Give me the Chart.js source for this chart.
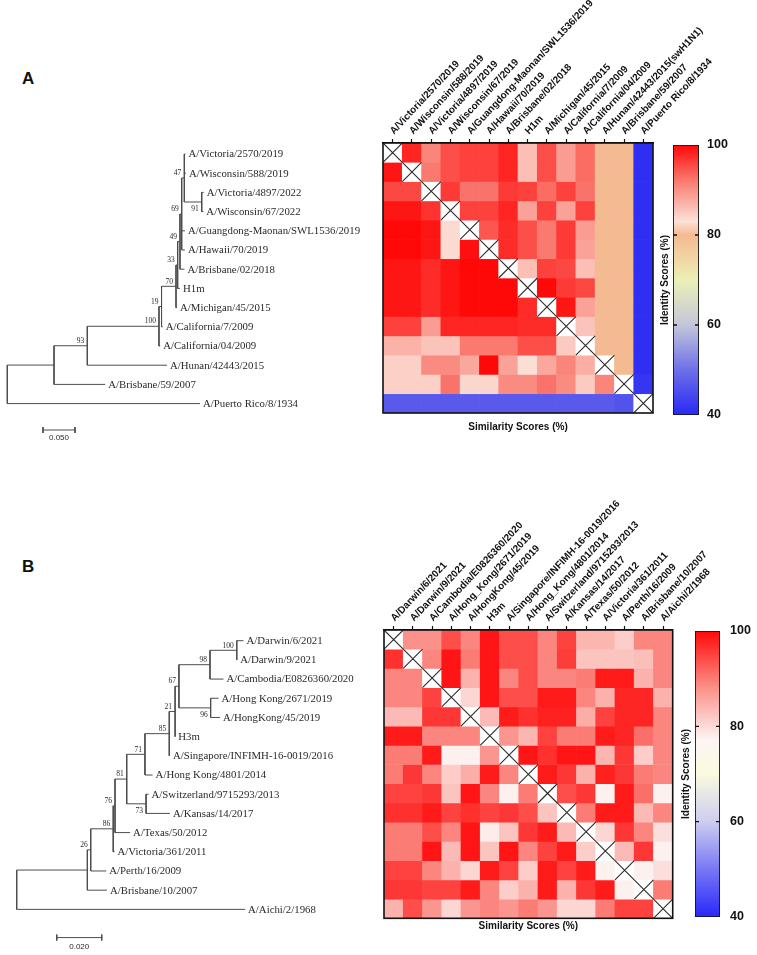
<!DOCTYPE html>
<html>
<head>
<meta charset="utf-8">
<script src="https://cdn.jsdelivr.net/npm/chart.js@4.4.1/dist/chart.umd.min.js"></script>
<style>
  body { margin: 0; background: #fff; }
  #wrap { position: relative; width: 757px; height: 955px; overflow: hidden; font-family: "Liberation Sans", Arial, sans-serif; }
  canvas { position: absolute; }
  .panel { position: absolute; font-weight: bold; font-size: 17px; line-height: 17px; color: #111; }
</style>
</head>
<body>
<div id="wrap">
  <div class="panel" style="left:22px;top:70px">A</div>
  <div class="panel" style="left:22px;top:558px">B</div>
  <canvas id="treeA" width="380" height="320" style="left:0;top:130px"></canvas>
  <canvas id="heatA" width="427" height="440" style="left:330px;top:0"></canvas>
  <canvas id="barA" width="102" height="310" style="left:655px;top:120px"></canvas>
  <canvas id="treeB" width="380" height="355" style="left:0;top:600px"></canvas>
  <canvas id="heatB" width="427" height="445" style="left:330px;top:490px"></canvas>
  <canvas id="barB" width="87" height="330" style="left:670px;top:610px"></canvas>
</div>
<script>
// ---- data ----
// trees as Newick (internal node names = bootstrap values)
const treeA = '((((((((((A/Victoria/2570/2019:0.0018,A/Wisconsin/588/2019:0.0025,(A/Victoria/4897/2022:0.003,A/Wisconsin/67/2022:0.0025)91:0.0272)47:0.0041,A/Guangdong-Maonan/SWL1536/2019:0.005,A/Hawaii/70/2019:0.005)69:0.0027,A/Brisbane/02/2018:0.007)49:0.0036,H1m:0.0036)33:0.0026,A/Michigan/45/2015:0.0016)70:0.0226,A/California/7/2009:0.002)19:0.004,A/California/04/2009:0.002)100:0.112,A/Hunan/42443/2015:0.1245)93:0.052,A/Brisbane/59/2007:0.080):0.073,A/Puerto Rico/8/1934:0.301);';
const treeB = '((((((((((((A/Darwin/6/2021:0.003,A/Darwin/9/2021:0.0002)100:0.0119,A/Cambodia/E0826360/2020:0.006)98:0.0138,(A/Hong Kong/2671/2019:0.0035,A/HongKong/45/2019:0.0042)96:0.0141)67:0.0017,H3m:0.0001)21:0.0026,A/Singapore/INFIMH-16-0019/2016:0.0003)85:0.0108,A/Hong Kong/4801/2014:0.0034)71:0.0081,(A/Switzerland/9715293/2013:0.0011,A/Kansas/14/2017:0.0106)73:0.0086)81:0.0052,A/Texas/50/2012:0.0067)76:0.0008,A/Victoria/361/2011:0.0006)86:0.010,A/Perth/16/2009:0.0069)26:0.0015,A/Brisbane/10/2007:0.0087):0.0314,A/Aichi/2/1968:0.1015);';
const scaleBarA = 0.05;
const scaleBarB = 0.02;

const heatLabelsA = ['A/Victoria/2570/2019', 'A/Wisconsin/588/2019', 'A/Victoria/4897/2019', 'A/Wisconsin/67/2019',
  'A/Guangdong-Maonan/SWL1536/2019', 'A/Hawaii/70/2019', 'A/Brisbane/02/2018', 'H1m', 'A/Michigan/45/2015',
  'A/California/7/2009', 'A/California/04/2009', 'A/Hunan/42443/2015(swH1N1)', 'A/Brisbane/59/2007', 'A/Puerto Rico/8/1934'];
const heatLabelsB = ['A/Darwin/6/2021', 'A/Darwin/9/2021', 'A/Cambodia/E0826360/2020', 'A/Hong_Kong/2671/2019',
  'A/HongKong/45/2019', 'H3m', 'A/Singapore/INFIMH-16-0019/2016', 'A/Hong_Kong/4801/2014', 'A/Switzerland/9715293/2013',
  'A/Kansas/14/2017', 'A/Texas/50/2012', 'A/Victoria/361/2011', 'A/Perth/16/2009', 'A/Brisbane/10/2007', 'A/Aichi/2/1968'];

// identity / similarity scores (%), null = diagonal
const scoresA = [
  [null, 98, 91, 95, 96, 96, 98, 86, 95, 89, 93, 80, 80, 41],
  [99, null, 92, 95, 96, 96, 98, 86, 95, 89, 93, 80, 80, 41],
  [95.5, 95.5, null, 96.5, 92.5, 92.5, 96.5, 96, 93, 96, 92.5, 80, 80, 41],
  [99, 99, 97, null, 96, 96, 98, 88.5, 96, 88.5, 96, 80, 80, 41],
  [100, 100, 99, 83.5, null, 94.5, 97.5, 95, 92, 96.5, 89, 80, 80, 41],
  [100, 100, 99, 83.5, 99.5, null, 97.5, 95, 92, 96.5, 88.5, 80, 80, 41],
  [99, 99, 97.5, 99, 100, 100, null, 86, 96, 95.5, 86, 80, 80, 41],
  [99, 99, 97.5, 99, 100, 100, 100, null, 100, 96.5, 95.5, 80, 80, 41],
  [99, 99, 97.5, 99, 100, 100, 100, 97.5, null, 99, 88.5, 80, 80, 41],
  [96, 96, 89, 98, 98, 98, 98, 97.5, 97.5, null, 85.5, 80, 80, 41],
  [87, 87, 85.5, 85.5, 92, 92, 92, 95, 95, 85, null, 80, 80, 41],
  [84.5, 84.5, 90.5, 90.5, 88, 100, 88.5, 83.2, 88, 91, 87.5, null, 80, 41],
  [84.5, 84.5, 84.5, 92.5, 84, 84, 90.5, 90.5, 92.5, 90.5, 85, 91, null, 42],
  [47, 47, 47, 47, 47, 47, 47, 47, 47, 47, 47, 47, 46, null]
];
const scoresB = [
  [null, 88, 88, 94, 89, 99, 94, 94, 89, 95, 84, 84, 81.5, 89, 89],
  [96.5, null, 89, 99, 90, 99, 94, 94, 89, 95.5, 82.5, 82.5, 82.5, 83, 89],
  [89, 89, null, 99, 84.5, 99, 89, 94, 89, 89, 90, 98.5, 98.5, 84.5, 89],
  [89, 89, 95, null, 80.5, 99, 94, 94, 98.5, 98.5, 89, 84.5, 97.5, 97.5, 84.5],
  [83.5, 83.5, 96, 96, null, 83.5, 98.5, 96.5, 98, 98, 85, 95, 97.5, 97.5, 89],
  [98.5, 98.5, 89, 89, 89, null, 87.5, 84, 95, 90, 90, 98.5, 97.5, 91, 89],
  [90, 90, 98.5, 77.5, 77.5, 87.5, null, 99, 96.5, 99, 99, 84, 96, 81.5, 89],
  [90, 96, 89, 81.5, 85, 98.5, 89, null, 98.5, 96, 84.5, 98, 96, 90, 89],
  [95, 95, 96, 82.5, 99, 89, 77.5, 90, null, 94, 96, 77.5, 98.5, 91, 77.5],
  [96.5, 96.5, 98.5, 95, 96.5, 95, 96, 94, 82.5, null, 90, 98.5, 98.5, 83.5, 89],
  [90, 90, 94, 89, 99, 78, 82.5, 96, 98.5, 83.5, null, 80.5, 96, 89, 79.5],
  [90, 90, 99, 83.5, 99, 82.5, 99, 89, 95, 98.5, 81.5, null, 83.5, 96, 77.5],
  [95, 95, 89, 84.5, 80.5, 98.5, 95, 81.5, 98.5, 95, 98.5, 77.5, null, 77.5, 79.5],
  [96, 96, 95, 95, 98.5, 89, 81.5, 84.5, 98.5, 84.5, 96, 98.5, 77.5, null, 90],
  [84.5, 94, 87.5, 80.5, 87.5, 89, 87.5, 90, 87.5, 80.5, 80.5, 90, 95, 95, null]
];
const colorTicks = [40, 60, 80, 100];

// colour scales [value, rgb]
const cmapA = [[40, [40, 40, 245]], [50, [110, 112, 232]], [60, [195, 198, 218]], [70, [236, 240, 182]],
  [80, [244, 186, 146]], [83, [251, 225, 215]], [92, [250, 122, 112]], [100, [255, 8, 8]]];
const cmapB = [[40, [40, 40, 250]], [50, [120, 120, 245]], [60, [205, 205, 240]], [70, [250, 250, 222]],
  [77, [253, 246, 244]], [88, [250, 145, 138]], [100, [255, 10, 10]]];

// ---- helpers ----
const SANS = '"Liberation Sans", Arial, sans-serif';
const SERIF = '"Liberation Serif", "Times New Roman", serif';

function parseNewick(s) {
  let i = 0;
  function readToken() {
    let t = '';
    while (i < s.length && !'(),:;'.includes(s[i])) t += s[i++];
    return t.trim();
  }
  function node() {
    const n = { kids: null, name: '', len: 0 };
    if (s[i] === '(') {
      n.kids = [];
      i++;
      do { n.kids.push(node()); } while (s[i++] === ',');
    }
    n.name = readToken();
    if (s[i] === ':') { i++; n.len = parseFloat(readToken()); }
    return n;
  }
  return node();
}

function layoutTree(root) {
  const segs = [], leaves = [], nodes = [];
  let row = 0;
  function walk(n, px) {
    const x = px + n.len;
    let y;
    if (n.kids) {
      const ys = n.kids.map(k => walk(k, x));
      y = (ys[0] + ys[ys.length - 1]) / 2;
      segs.push([[x, ys[0]], [x, ys[ys.length - 1]]]);
      if (n.name) nodes.push({ x, y, text: n.name });
    } else {
      y = row++;
      leaves.push({ x, y, text: n.name });
    }
    if (n.len > 0) segs.push([[px, y], [x, y]]);
    return y;
  }
  walk(root, 0);
  return { segs, leaves, nodes };
}

function colorFor(cmap, v) {
  if (v == null) return '#ffffff';
  for (let i = 1; i < cmap.length; i++) {
    const [v1, c1] = cmap[i];
    if (v <= v1 || i === cmap.length - 1) {
      const [v0, c0] = cmap[i - 1];
      const t = Math.max(0, Math.min(1, (v - v0) / (v1 - v0)));
      return 'rgb(' + c0.map((a, k) => Math.round(a + (c1[k] - a) * t)).join(',') + ')';
    }
  }
}

const baseOpts = {
  responsive: false,
  animation: false,
  devicePixelRatio: 1,
  plugins: { legend: { display: false }, tooltip: { enabled: false } }
};

// ---- tree ----
function treeChart(id, newick, g) {
  const t = layoutTree(parseNewick(newick));
  const cv = document.getElementById(id);
  const W = cv.width, H = cv.height;
  const line = pts => ({
    data: pts.map(p => ({ x: p[0], y: p[1] })),
    showLine: true, borderColor: '#4d4d4d', borderWidth: 1, pointRadius: 0
  });
  const datasets = t.segs.map(line);
  const tick = 3 / g.rowPx;
  datasets.push(line([[g.barX, g.barRow], [g.barX + g.barLen, g.barRow]]));
  datasets.push(line([[g.barX, g.barRow - tick], [g.barX, g.barRow + tick]]));
  datasets.push(line([[g.barX + g.barLen, g.barRow - tick], [g.barX + g.barLen, g.barRow + tick]]));

  const textPlugin = {
    id: 'treeText',
    afterDatasetsDraw(chart) {
      const { ctx, scales: { x, y } } = chart;
      ctx.save();
      ctx.fillStyle = '#2a2a2a';
      ctx.font = '10.8px ' + SERIF;
      ctx.textAlign = 'left';
      ctx.textBaseline = 'middle';
      t.leaves.forEach(l => ctx.fillText(l.text, x.getPixelForValue(l.x) + 3, y.getPixelForValue(l.y) + 0.5));
      ctx.font = '7.5px ' + SERIF;
      ctx.textAlign = 'right';
      t.nodes.forEach(n => {
        const below = g.below.includes(n.text);
        ctx.textBaseline = below ? 'top' : 'bottom';
        ctx.fillText(n.text, x.getPixelForValue(n.x) - 3, y.getPixelForValue(n.y) + (below ? 3 : -1));
      });
      ctx.font = '8px ' + SANS;
      ctx.textAlign = 'center';
      ctx.textBaseline = 'middle';
      ctx.fillText(g.barLen.toFixed(3), x.getPixelForValue(g.barX + g.barLen / 2), y.getPixelForValue(g.barRow) + g.barLabelDy);
      ctx.restore();
    }
  };

  new Chart(cv, {
    type: 'scatter',
    data: { datasets },
    options: Object.assign({}, baseOpts, {
      layout: { padding: 0 },
      scales: {
        x: { type: 'linear', display: false, min: -g.rootPx / g.pxPerUnit, max: (W - g.rootPx) / g.pxPerUnit },
        y: { type: 'linear', display: false, reverse: true, min: -g.firstRowPx / g.rowPx, max: (H - g.firstRowPx) / g.rowPx }
      }
    }),
    plugins: [textPlugin]
  });
}

// ---- heatmap ----
function heatChart(id, labels, matrix, cmap, g) {
  const cv = document.getElementById(id);
  const W = cv.width, H = cv.height;
  const n = labels.length;
  const datasets = matrix.map((row, r) => ({
    data: row.map(() => [r, r + 1]),
    backgroundColor: row.map(v => colorFor(cmap, v)),
    borderWidth: 0,
    grouped: false,
    barPercentage: 1,
    categoryPercentage: 1
  }));
  datasets.push({
    type: 'line',
    order: -1,
    data: labels.map((_, i) => ({ x: i, y: i + 0.5 })),
    showLine: false,
    pointStyle: 'crossRot',
    pointRadius: ctx => ctx.chart.scales.x.width / n / 2 * Math.SQRT2,
    pointBorderColor: '#2b2b2b',
    pointBackgroundColor: 'rgba(0,0,0,0)',
    pointBorderWidth: 1.1
  });

  const boxPlugin = {
    id: 'heatBox',
    afterDraw(chart) {
      const { ctx, chartArea: a } = chart;
      ctx.save();
      ctx.strokeStyle = '#111';
      ctx.lineWidth = 1.6;
      ctx.strokeRect(a.left, a.top, a.right - a.left, a.bottom - a.top);
      ctx.restore();
    }
  };

  new Chart(cv, {
    type: 'bar',
    data: { labels, datasets },
    options: Object.assign({}, baseOpts, {
      layout: { padding: { left: g.left, right: W - g.right, top: 0, bottom: 0 }, autoPadding: false },
      scales: {
        x: {
          type: 'category', position: 'top', offset: true,
          ticks: { autoSkip: false, minRotation: 47, maxRotation: 47, padding: 2, labelOffset: 8, color: '#111',
                   font: { family: SANS, weight: 'bold', size: 10 } },
          grid: { display: true, drawOnChartArea: false, drawTicks: true, tickLength: 4, tickColor: '#111', tickWidth: 1.2, offset: false },
          border: { display: true, color: '#111', width: 1.5 },
          afterFit: s => { s.height = g.top; s.paddingLeft = 0; s.paddingRight = 0; }
        },
        xb: {
          type: 'category', position: 'bottom', offset: true,
          ticks: { display: false }, grid: { display: false }, border: { display: false },
          title: { display: true, text: 'Similarity Scores (%)', color: '#111',
                   font: { family: SANS, weight: 'bold', size: 10 }, padding: { top: 0, bottom: g.titlePad } },
          afterFit: s => { s.height = H - g.bottom; s.paddingLeft = 0; s.paddingRight = 0; }
        },
        y: { type: 'linear', display: false, min: 0, max: n, reverse: true }
      }
    }),
    plugins: [boxPlugin]
  });
}

// ---- colour bar ----
function colorBar(id, cmap, g) {
  const cv = document.getElementById(id);
  const W = cv.width, H = cv.height;
  const lo = colorTicks[0], hi = colorTicks[colorTicks.length - 1];
  const dashPlugin = {
    id: 'barDash',
    afterDatasetsDraw(chart) {
      const { ctx, chartArea: a, scales: { y } } = chart;
      ctx.save();
      ctx.strokeStyle = '#111';
      ctx.lineWidth = 1.3;
      colorTicks.slice(1, -1).forEach(v => {
        const py = y.getPixelForValue(v);
        ctx.beginPath();
        ctx.moveTo(a.left, py); ctx.lineTo(a.left + 4, py);
        ctx.moveTo(a.right - 4, py); ctx.lineTo(a.right, py);
        ctx.stroke();
      });
      ctx.restore();
    }
  };
  new Chart(cv, {
    type: 'bar',
    data: {
      labels: [''],
      datasets: [{
        data: [[lo, hi]],
        backgroundColor(ctx) {
          const chart = ctx.chart;
          if (!chart.chartArea) return '#fff';
          const y = chart.scales.y;
          const grad = chart.ctx.createLinearGradient(0, y.getPixelForValue(lo), 0, y.getPixelForValue(hi));
          cmap.forEach(([v, c]) => grad.addColorStop((v - lo) / (hi - lo), 'rgb(' + c.join(',') + ')'));
          return grad;
        },
        borderColor: '#111',
        borderWidth: 1.2,
        borderSkipped: false,
        barPercentage: 1,
        categoryPercentage: 1
      }]
    },
    options: Object.assign({}, baseOpts, {
      layout: { padding: { top: g.top, bottom: H - g.bottom, left: 0, right: 0 } },
      scales: {
        x: { display: false },
        y: {
          position: 'right', min: lo, max: hi,
          afterBuildTicks: s => { s.ticks = colorTicks.map(v => ({ value: v })); },
          ticks: { padding: g.tickPad, color: '#111', font: { family: SANS, weight: 'bold', size: 12.5 } },
          grid: { display: false }, border: { display: false },
          afterFit: s => { s.width = W - g.right; }
        },
        yl: {
          position: 'left', min: lo, max: hi,
          ticks: { display: false }, grid: { display: false }, border: { display: false },
          title: { display: true, text: 'Identity Scores (%)', color: '#111',
                   font: { family: SANS, weight: 'bold', size: 10 }, padding: { top: g.titlePad, bottom: 0 } },
          afterFit: s => { s.width = g.left; }
        }
      }
    }),
    plugins: [dashPlugin]
  });
}

treeChart('treeA', treeA, { pxPerUnit: 640, rootPx: 7.3, firstRowPx: 24, rowPx: 19.2,
  barX: 0.0558, barLen: scaleBarA, barRow: 14.375, barLabelDy: 8, below: ['91'] });
treeChart('treeB', treeB, { pxPerUnit: 2250, rootPx: 16.7, firstRowPx: 40.7, rowPx: 19.19,
  barX: 0.0178, barLen: scaleBarB, barRow: 15.47, barLabelDy: 9, below: ['96', '73'] });

heatChart('heatA', heatLabelsA, scoresA, cmapA, { left: 53, right: 323, top: 143, bottom: 413, titlePad: 7 });
heatChart('heatB', heatLabelsB, scoresB, cmapB, { left: 54, right: 342.7, top: 140, bottom: 428.3, titlePad: 3 });

colorBar('barA', cmapA, { left: 18, right: 44, top: 25, bottom: 295, tickPad: 0, titlePad: 4 });
colorBar('barB', cmapB, { left: 25, right: 50, top: 21, bottom: 307, tickPad: 2, titlePad: 10 });
</script>
</body>
</html>
